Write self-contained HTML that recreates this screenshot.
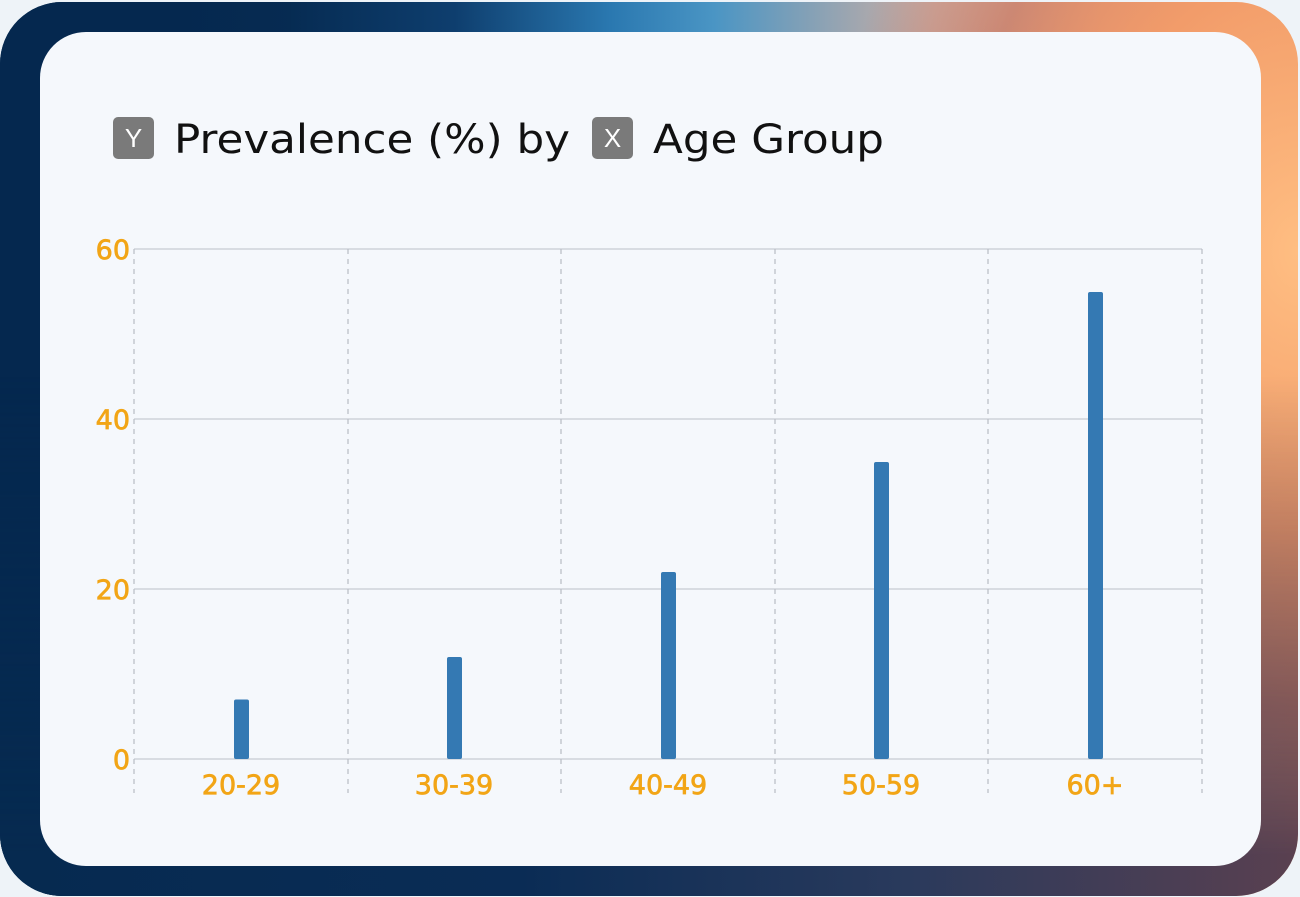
<!DOCTYPE html>
<html><head><meta charset="utf-8"><style>
html,body{margin:0;padding:0;}
body{width:1300px;height:897px;background:#eef3f8;position:relative;overflow:hidden;font-family:"Liberation Sans","DejaVu Sans",sans-serif;}
.frame{position:absolute;left:0;top:2px;width:1298px;height:894px;border-radius:62px;overflow:hidden;
background:
 radial-gradient(ellipse 520px 700px at 1300px 250px, rgba(255,190,130,1) 0%, rgba(240,150,100,0.85) 40%, rgba(180,90,75,0.5) 65%, rgba(100,60,80,0) 90%),
 linear-gradient(90deg,#052a50 0%,#062b52 22%,#0e3e6e 35%,#2a78b0 47%,#4a95c4 55%,#d0b0a4 72%,#fbbc92 85%,#ffbe84 100%);
}
.frame:after{content:"";position:absolute;left:0;right:0;bottom:0;height:520px;
background:linear-gradient(90deg,#062a50 0%,#0a2c55 40%,#2a3a5c 70%,#5a4050 100%);
-webkit-mask:linear-gradient(180deg,transparent 0%,#000 92%);mask:linear-gradient(180deg,transparent 0%,#000 92%);}
.left{position:absolute;left:0;top:0;bottom:0;width:300px;background:linear-gradient(90deg,#05284f 0%,#05284f 60%,rgba(5,40,79,0) 100%);}
.card{position:absolute;left:40px;top:32px;width:1221px;height:834px;border-radius:46px;background:#f5f8fc;z-index:2;}
svg{position:absolute;left:0;top:0;z-index:3;}
</style></head><body>
<div class="frame"><div class="left"></div></div>
<div class="card"></div>
<svg width="1300" height="897" viewBox="0 0 1300 897">
<rect x="113" y="117" width="41" height="42" rx="5" fill="#7a7a7a"/>
<text x="133.5" y="147" font-size="26" fill="#fff" text-anchor="middle" font-family="Liberation Sans, sans-serif">Y</text>
<text x="174" y="153" font-size="40" fill="#111" font-family="DejaVu Sans, sans-serif" textLength="396" lengthAdjust="spacingAndGlyphs">Prevalence (%) by</text>
<rect x="592" y="117" width="41" height="42" rx="5" fill="#7a7a7a"/>
<text x="612.5" y="147" font-size="26" fill="#fff" text-anchor="middle" font-family="Liberation Sans, sans-serif">X</text>
<text x="653" y="153" font-size="40" fill="#111" font-family="DejaVu Sans, sans-serif" textLength="231" lengthAdjust="spacingAndGlyphs">Age Group</text>
<g stroke="#c8ccd2" stroke-width="1.2">
<line x1="134" y1="249" x2="1202" y2="249"/>
<line x1="134" y1="419" x2="1202" y2="419"/>
<line x1="134" y1="589" x2="1202" y2="589"/>
<line x1="134" y1="759" x2="1202" y2="759"/>
</g>
<g stroke="#b8bcc4" stroke-width="1.2" stroke-dasharray="5,5">
<line x1="134" y1="249" x2="134" y2="793"/>
<line x1="348" y1="249" x2="348" y2="793"/>
<line x1="561" y1="249" x2="561" y2="793"/>
<line x1="775" y1="249" x2="775" y2="793"/>
<line x1="988" y1="249" x2="988" y2="793"/>
<line x1="1202" y1="249" x2="1202" y2="793"/>
</g>
<g fill="#3479b3">
<rect x="234" y="699.5" width="15" height="59.5" rx="2"/>
<rect x="447" y="657" width="15" height="102" rx="2"/>
<rect x="661" y="572" width="15" height="187" rx="2"/>
<rect x="874" y="462" width="15" height="297" rx="2"/>
<rect x="1088" y="292" width="15" height="467" rx="2"/>
</g>
<g fill="#f2a516" stroke="#f2a516" stroke-width="0.7" font-size="27" font-family="DejaVu Sans, sans-serif">
<g text-anchor="end">
<text x="130" y="259">60</text>
<text x="130" y="429">40</text>
<text x="130" y="599">20</text>
<text x="130" y="769">0</text>
</g>
<g text-anchor="middle">
<text x="241" y="794">20-29</text>
<text x="454" y="794">30-39</text>
<text x="668" y="794">40-49</text>
<text x="881" y="794">50-59</text>
<text x="1095" y="794">60+</text>
</g>
</g>
</svg>
</body></html>
